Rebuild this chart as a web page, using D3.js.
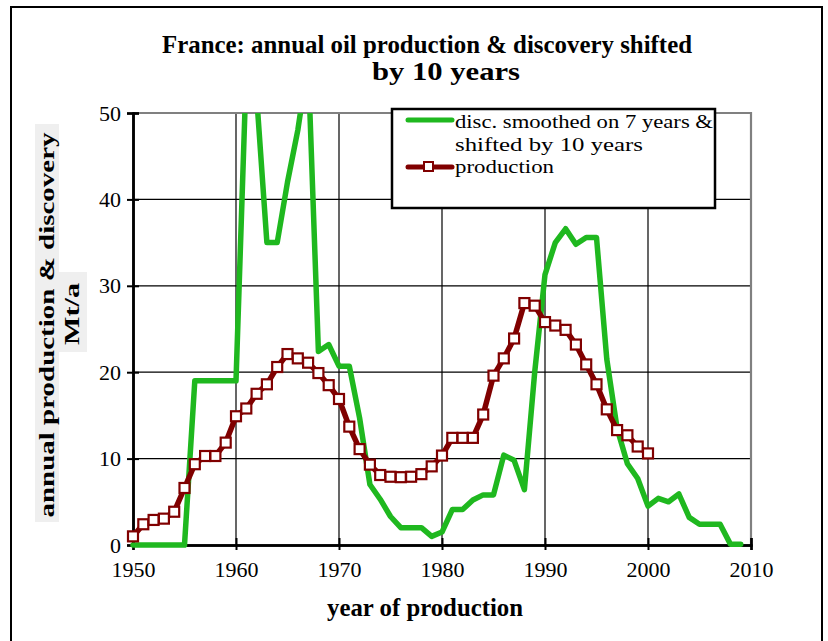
<!DOCTYPE html>
<html><head><meta charset="utf-8">
<script src="https://cdn.jsdelivr.net/npm/d3@7"></script>
<style>body{margin:0;background:#fff}svg{display:block}</style>
</head><body>
<script>
// ---- data ----
const discYears = [1950,1951,1952,1953,1954,1955,1956,1957,1958,1959,
  1960,1961,1962,1963,1964,1965,1966,1967,1968,1969,
  1970,1971,1972,1973,1974,1975,1976,1977,1978,1979,
  1980,1981,1982,1983,1984,1985,1986,1987,1988,1989,
  1990,1991,1992,1993,1994,1995,1996,1997,1998,1999,
  2000,2001,2002,2003,2004,2005,2006,2007,2008,2009];
const discValues = [0,0,0,0,0,0,19,19,19,19,
  19,55,52,35,35,42,48,56,22.4,23.2,
  20.7,20.7,14.7,7.0,5.3,3.3,2.0,2.0,2.0,1.0,
  1.5,4.1,4.1,5.2,5.8,5.8,10.4,9.8,6.4,20,
  31.3,35.0,36.6,34.8,35.6,35.6,21.5,13.5,9.4,7.7,
  4.5,5.4,5.0,5.9,3.2,2.4,2.4,2.4,0.1,0.1];
const prodYears = [1950,1951,1952,1953,1954,1955,1956,1957,1958,1959,
  1960,1961,1962,1963,1964,1965,1966,1967,1968,1969,
  1970,1971,1972,1973,1974,1975,1976,1977,1978,1979,
  1980,1981,1982,1983,1984,1985,1986,1987,1988,1989,
  1990,1991,1992,1993,1994,1995,1996,1997,1998,1999,2000];
const prodValues = [1.0,2.4,2.9,3.05,3.85,6.6,9.35,10.3,10.3,11.85,
  14.9,15.8,17.5,18.6,20.6,22.1,21.6,21.1,19.9,18.5,
  16.9,13.7,11.1,9.3,8.1,7.9,7.85,7.9,8.2,9.1,
  10.35,12.4,12.4,12.4,15.1,19.6,21.6,23.9,28.0,27.7,
  25.8,25.4,24.9,23.2,20.9,18.6,15.7,13.3,12.7,11.4,10.6];
const xTicks = [1950,1960,1970,1980,1990,2000,2010];
const yTicks = [0,10,20,30,40,50];
const titleLines = ["France: annual oil production & discovery shifted", "by 10 years"];
const xTitle = "year of production";
const yTitleLines = ["annual production & discovery", "Mt/a"];
const legendLabels = [["disc. smoothed on 7 years &", "shifted by 10 years"], ["production"]];

// ---- drawing ----
const W = 828, H = 641;
const GREEN = "#1fb81f", RED = "#800000";
const svg = d3.select("body").append("svg").attr("width", W).attr("height", H);
const x = d3.scaleLinear().domain([1950, 2010]).range([133, 751]);
const y = d3.scaleLinear().domain([0, 50]).range([545, 113]);
const serif = "'Liberation Serif','Times New Roman',serif";

// outer frame
svg.append("rect").attr("x", 11).attr("y", 7).attr("width", 811).attr("height", 650)
  .attr("fill", "none").attr("stroke", "#000").attr("stroke-width", 2);

// gridlines
const grid = svg.append("g");
grid.selectAll("line.h").data(yTicks.filter(v => v > 0 && v < 50)).join("line")
  .attr("x1", x(1950)).attr("x2", x(2010)).attr("y1", d => y(d)).attr("y2", d => y(d))
  .attr("stroke", "#000").attr("stroke-width", 1.2);
grid.selectAll("line.v").data(xTicks.filter(v => v > 1950 && v < 2010)).join("line")
  .attr("y1", y(0)).attr("y2", y(50)).attr("x1", d => x(d)).attr("x2", d => x(d))
  .attr("stroke", "#000").attr("stroke-width", 1.2);
// top and right gray frame
svg.append("path").attr("d", `M${x(1950)},${y(50)}H${x(2010)}V${y(0)}`)
  .attr("fill", "none").attr("stroke", "#808080").attr("stroke-width", 2.2);

// axes
const yAxis = d3.axisLeft(y).tickValues(yTicks).tickSize(6).tickPadding(6).tickFormat(d3.format("d"));
const gy = svg.append("g").attr("transform", `translate(${x(1950)},0)`).call(yAxis);
const gy2 = svg.append("g").attr("transform", `translate(${x(1950)},0)`)
  .call(d3.axisLeft(y).tickValues(yTicks).tickSize(-6).tickFormat(""));
const xAxis = d3.axisBottom(x).tickValues(xTicks).tickSize(5).tickPadding(11).tickFormat(d3.format("d"));
const gx = svg.append("g").attr("transform", `translate(0,${y(0)})`).call(xAxis);
const gx2 = svg.append("g").attr("transform", `translate(0,${y(0)})`)
  .call(d3.axisBottom(x).tickValues(xTicks).tickSize(-7).tickFormat(""));
[gy, gy2, gx, gx2].forEach(g => {
  g.select(".domain").attr("stroke", "#000").attr("stroke-width", 2.5);
  g.selectAll(".tick line").attr("stroke", "#000").attr("stroke-width", 2);
  g.selectAll("text").attr("font-family", serif).attr("font-size", 22).attr("fill", "#000");
});

// discovery line (clipped at top of plot)
svg.append("clipPath").attr("id", "clip").append("rect")
  .attr("x", 0).attr("y", y(50)).attr("width", W).attr("height", H - y(50));
const discData = discYears.map((yr, i) => [yr, discValues[i]]);
const line = d3.line().x(d => x(d[0])).y(d => y(d[1]));
svg.append("path").datum(discData).attr("clip-path", "url(#clip)")
  .attr("d", line).attr("fill", "none").attr("stroke", GREEN)
  .attr("stroke-width", 5.5).attr("stroke-linejoin", "round").attr("stroke-linecap", "round");

// production line + markers
const prodData = prodYears.map((yr, i) => [yr, prodValues[i]]);
svg.append("path").datum(prodData).attr("d", line).attr("fill", "none")
  .attr("stroke", RED).attr("stroke-width", 5.5).attr("stroke-linejoin", "round");
svg.selectAll("rect.mk").data(prodData).join("rect").attr("class", "mk")
  .attr("x", d => x(d[0]) - 5).attr("y", d => y(d[1]) - 5).attr("width", 10).attr("height", 10)
  .attr("fill", "#fff").attr("stroke", RED).attr("stroke-width", 2.2);

// legend
const lg = svg.append("g");
lg.append("rect").attr("x", 392).attr("y", 109).attr("width", 323).attr("height", 99)
  .attr("fill", "#fff").attr("stroke", "#000").attr("stroke-width", 2.5);
lg.append("line").attr("x1", 408).attr("x2", 452).attr("y1", 120).attr("y2", 120)
  .attr("stroke", GREEN).attr("stroke-width", 5).attr("stroke-linecap", "round");
lg.append("line").attr("x1", 408).attr("x2", 452).attr("y1", 167).attr("y2", 167)
  .attr("stroke", RED).attr("stroke-width", 5).attr("stroke-linecap", "round");
lg.append("rect").attr("x", 424).attr("y", 162).attr("width", 9).attr("height", 9)
  .attr("fill", "#fff").attr("stroke", RED).attr("stroke-width", 2);
const legSpecs = [
  {t: legendLabels[0][0], y: 128, w: 258},
  {t: legendLabels[0][1], y: 150.5, w: 188},
  {t: legendLabels[1][0], y: 173, w: 99}
];
lg.selectAll("text.leg").data(legSpecs).join("text").attr("class", "leg")
  .attr("x", 455).attr("y", d => d.y)
  .attr("font-family", serif).attr("font-size", 19.5).attr("fill", "#000")
  .attr("textLength", d => d.w).attr("lengthAdjust", "spacingAndGlyphs")
  .text(d => d.t);

// title
svg.append("text").attr("x", 427).attr("y", 53).attr("text-anchor", "middle")
  .attr("font-family", serif).attr("font-weight", "bold").attr("font-size", 25)
  .attr("textLength", 530).attr("lengthAdjust", "spacingAndGlyphs").text(titleLines[0]);
svg.append("text").attr("x", 446).attr("y", 80).attr("text-anchor", "middle")
  .attr("font-family", serif).attr("font-weight", "bold").attr("font-size", 25)
  .attr("textLength", 148).attr("lengthAdjust", "spacingAndGlyphs").text(titleLines[1]);

// x title
svg.append("text").attr("x", 425).attr("y", 616).attr("text-anchor", "middle")
  .attr("font-family", serif).attr("font-weight", "bold").attr("font-size", 25)
  .attr("textLength", 196).attr("lengthAdjust", "spacingAndGlyphs").text(xTitle);

// y title with light gray backgrounds
svg.append("rect").attr("x", 35).attr("y", 124).attr("width", 24).attr("height", 398).attr("fill", "#efefef");
svg.append("rect").attr("x", 59).attr("y", 272).attr("width", 28).attr("height", 80).attr("fill", "#efefef");
svg.append("text").attr("transform", "translate(54,325) rotate(-90)").attr("text-anchor", "middle")
  .attr("font-family", serif).attr("font-weight", "bold").attr("font-size", 20)
  .attr("textLength", 385).attr("lengthAdjust", "spacingAndGlyphs").text(yTitleLines[0]);
svg.append("text").attr("transform", "translate(79,314) rotate(-90)").attr("text-anchor", "middle")
  .attr("font-family", serif).attr("font-weight", "bold").attr("font-size", 20)
  .attr("textLength", 62).attr("lengthAdjust", "spacingAndGlyphs").text(yTitleLines[1]);
</script>
</body></html>
